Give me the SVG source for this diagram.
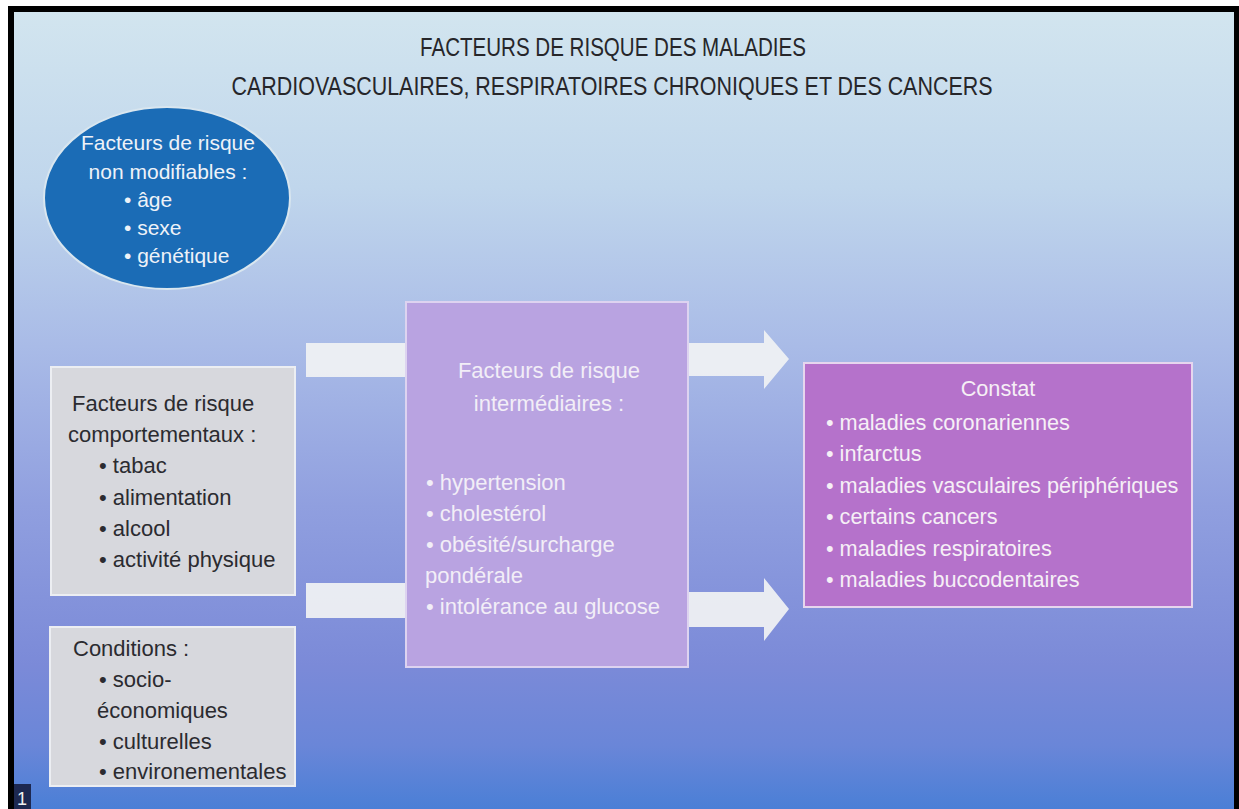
<svg xmlns="http://www.w3.org/2000/svg" width="1239" height="809" viewBox="0 0 1239 809">
<defs>
<linearGradient id="bg" x1="0" y1="0" x2="0" y2="1">
<stop offset="0" stop-color="#d2e5ef"/>
<stop offset="0.22" stop-color="#c0d6ec"/>
<stop offset="0.42" stop-color="#a9bbe7"/>
<stop offset="0.62" stop-color="#909fdf"/>
<stop offset="0.82" stop-color="#7b8ad8"/>
<stop offset="0.92" stop-color="#6a86d8"/>
<stop offset="1" stop-color="#4a7fd6"/>
</linearGradient>
<style>
text{font-family:"Liberation Sans",Arial,sans-serif;font-size:22px}
.title{font-size:25px;fill:#26262a}
.dark{fill:#2b2b30}
.white{fill:#eef2f8;font-size:21px}
.mid{fill:#f2eef7}
.con{fill:#f6eff6;font-size:21.7px}
.box{fill:#d7d8dd;stroke:#eceef2;stroke-width:2}
.arrow{fill:#eef0f3;fill-opacity:0.95}
</style>
</defs>
<rect x="0" y="0" width="1239" height="809" fill="#ffffff"/>
<rect x="8" y="6" width="1231" height="803" fill="#000000"/>
<rect x="14" y="12" width="1220" height="797" fill="url(#bg)"/>
<g id="title">
<text class="title" x="613" y="56" text-anchor="middle" textLength="386" lengthAdjust="spacingAndGlyphs">FACTEURS DE RISQUE DES MALADIES</text>
<text class="title" x="612" y="95" text-anchor="middle" textLength="761" lengthAdjust="spacingAndGlyphs">CARDIOVASCULAIRES, RESPIRATOIRES CHRONIQUES ET DES CANCERS</text>
</g>
<g id="connectors">
<rect class="arrow" x="306" y="343" width="104" height="34"/>
<rect class="arrow" x="306" y="583" width="104" height="35"/>
<polygon class="arrow" points="686,343 764,343 764,330 789,359 764,389 764,376 686,376"/>
<polygon class="arrow" points="686,592 764,592 764,578 789,609 764,641 764,627 686,627"/>
</g>
<g id="non-modifiables">
<ellipse cx="167" cy="198" rx="123" ry="91" fill="#1b6cb6" stroke="#d9e6ef" stroke-width="2"/>
<text class="white" x="168" y="150" text-anchor="middle">Facteurs de risque</text>
<text class="white" x="168" y="179" text-anchor="middle">non modifiables :</text>
<text class="white" x="124" y="207">• âge</text>
<text class="white" x="124" y="235">• sexe</text>
<text class="white" x="124" y="263">• génétique</text>
</g>
<g id="comportementaux">
<rect class="box" x="51" y="367" width="244" height="228"/>
<text class="dark" x="72" y="411">Facteurs de risque</text>
<text class="dark" x="68" y="442">comportementaux :</text>
<text class="dark" x="99" y="473">• tabac</text>
<text class="dark" x="99" y="505">• alimentation</text>
<text class="dark" x="99" y="536">• alcool</text>
<text class="dark" x="99" y="567">• activité physique</text>
</g>
<g id="conditions">
<rect class="box" x="50" y="627" width="245" height="159"/>
<text class="dark" x="73" y="656">Conditions :</text>
<text class="dark" x="99" y="687">• socio-</text>
<text class="dark" x="97" y="718">économiques</text>
<text class="dark" x="99" y="749">• culturelles</text>
<text class="dark" x="99" y="779">• environementales</text>
</g>
<g id="intermediaires">
<rect x="406" y="302" width="282" height="365" fill="#b9a3e1" stroke="#ddd3f0" stroke-width="2"/>
<text class="mid" x="549" y="378" text-anchor="middle">Facteurs de risque</text>
<text class="mid" x="549" y="411" text-anchor="middle">intermédiaires :</text>
<text class="mid" x="426" y="490">• hypertension</text>
<text class="mid" x="426" y="521">• cholestérol</text>
<text class="mid" x="426" y="552">• obésité/surcharge</text>
<text class="mid" x="425" y="583">pondérale</text>
<text class="mid" x="426" y="614">• intolérance au glucose</text>
</g>
<g id="constat">
<rect x="804" y="363" width="388" height="244" fill="#b572cb" stroke="#e6d6ee" stroke-width="2"/>
<text class="con" x="998" y="396" text-anchor="middle">Constat</text>
<text class="con" x="826" y="430">• maladies coronariennes</text>
<text class="con" x="826" y="461">• infarctus</text>
<text class="con" x="826" y="493">• maladies vasculaires périphériques</text>
<text class="con" x="826" y="524">• certains cancers</text>
<text class="con" x="826" y="556">• maladies respiratoires</text>
<text class="con" x="826" y="587">• maladies buccodentaires</text>
</g>
<g id="page-number">
<rect x="14" y="784" width="17" height="25" fill="#1d2850"/>
<text x="17" y="805" style="font-size:18px;fill:#f0f0f0">1</text>
</g>
</svg>
